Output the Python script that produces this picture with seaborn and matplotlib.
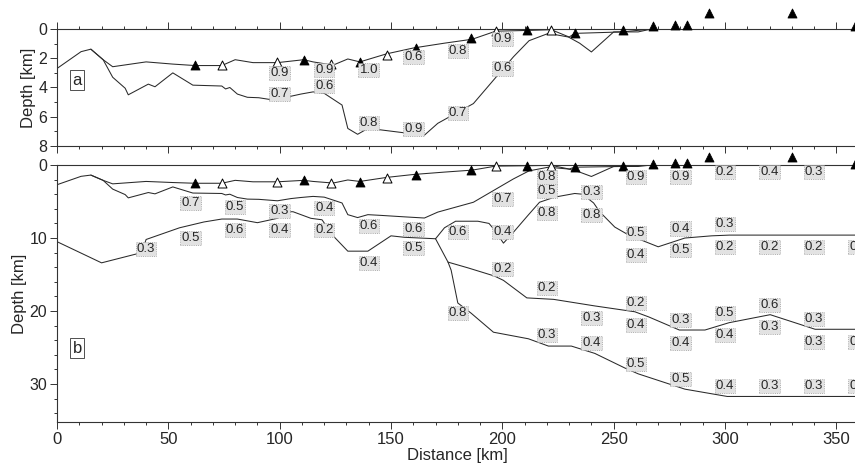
import matplotlib
matplotlib.use("Agg")

import matplotlib.pyplot as plt
from matplotlib.ticker import MultipleLocator
import seaborn as sns

# stations (negative depth = above sea level)
st_x = [62, 74, 98.6, 110.8, 123, 136, 148, 161, 186, 197, 211, 222, 232.5, 254,
        267.6, 277.5, 283, 292.8, 330, 358.6]
st_d = [2.47, 2.47, 2.26, 2.12, 2.4, 2.26, 1.78, 1.3, 0.62, 0.15, 0.1, 0.1, 0.3, 0.1,
        -0.2, -0.27, -0.27, -1.1, -1.1, -0.2]
st_open = [0, 1, 1, 0, 1, 0, 1, 0, 0, 1, 0, 1, 0, 0, 0, 0, 0, 0, 0, 0]

# interfaces
x_top = [0, 10.8, 15.2, 20.7, 25, 40, 52, 62, 74, 80, 88, 99, 110.8, 115, 124, 130.6, 136,
         148, 160, 174, 186.5, 197, 211, 222, 230, 232.5, 254, 267, 360]
d_top = [2.7, 1.55, 1.38, 2.1, 2.58, 2.25, 2.4, 2.5, 2.5, 2.1, 2.3, 2.3, 2.1, 2.25, 2.47, 2.05,
         2.25, 1.7, 1.3, 0.97, 0.7, 0.15, 0.1, 0.05, 0.55, 0.3, 0.2, 0, 0]

x_base = [15.2, 20.7, 25, 30.6, 32, 41, 44, 52, 61, 74, 75.7, 77.6, 81, 85.5, 90.6, 99, 105,
          109.5, 115, 120, 128, 130.6, 135, 139.6, 145.5, 156, 165, 171, 187, 196, 205, 212,
          220.7, 229.7, 234.7, 240, 250, 261, 267, 360]
d_base = [1.38, 2.1, 3.3, 4.05, 4.5, 3.77, 3.95, 3.0, 3.84, 3.9, 4.1, 4.0, 4.45, 4.67, 4.7, 4.9,
          4.6, 4.45, 4.3, 4.4, 5.2, 6.8, 7.2, 6.8, 6.9, 7.1, 7.26, 6.45, 5.1, 3.5, 1.9, 0.8,
          0.3, 0.55, 0.97, 1.57, 0.2, 0.2, 0, 0]

x_l3 = [0, 20, 38, 40, 55, 66, 74, 81, 90, 96, 99, 101, 106, 114, 119, 124, 130.6, 139.6,
        150, 156, 170]
d_l3 = [10.5, 13.4, 12.0, 10.2, 8.6, 7.8, 7.4, 7.4, 7.9, 7.5, 7.3, 6.4, 6.4, 7.3, 7.5, 9.7,
        11.8, 11.8, 9.7, 9.9, 10.1]

x_l4 = [170, 174, 179, 189, 194, 196.5, 200.5, 205, 211.5, 216.7, 223.5, 232.5, 236, 241,
        243.7, 250.5, 256.8, 270, 282, 294, 302, 360]
d_l4 = [10.1, 8.6, 7.7, 7.7, 8.0, 8.9, 10.7, 9.2, 6.9, 5.1, 4.4, 3.9, 4.0, 5.2,
        6.4, 8.5, 9.6, 11.2, 10.0, 9.7, 9.6, 9.6]

x_l5 = [170, 175.6, 184.7, 196.4, 200.5, 211, 223, 241.5, 259.5, 265.7, 279.5, 291, 301.8,
        320.3, 340.5, 360]
d_l5 = [10.1, 13.3, 14.1, 15.2, 15.8, 18.2, 18.4, 19.3, 20.1, 20.8, 22.6, 22.6, 21.6,
        20.5, 22.5, 22.5]

x_l6 = [175.6, 177, 180, 186, 196, 211.7, 220.7, 231, 241.5, 255, 261, 276, 282, 289.6, 301, 360]
d_l6 = [13.3, 14.4, 18.9, 20.3, 22.9, 23.8, 24.8, 24.8, 25.8, 27.8, 28.6, 30.1, 30.7, 31.1,
        31.7, 31.7]

# labels
lab_a_x = [100, 100, 120, 120, 140, 160, 180, 200, 200, 180, 140, 160]
lab_a_d = [3.0, 4.45, 2.8, 3.9, 2.8, 1.9, 1.5, 0.7, 2.7, 5.75, 6.4, 6.85]
lab_a_t = ["0.9", "0.7", "0.9", "0.6", "1.0", "0.6", "0.8", "0.9", "0.6", "0.7", "0.8", "0.9"]

lab_b_x = [40, 60, 60, 80, 80, 100, 100, 120, 120, 140, 140, 160, 160, 180, 180,
           200, 200, 200, 220, 220, 220, 220, 220, 240, 240, 240, 240,
           260, 260, 260, 260, 260, 260, 280, 280, 280, 280, 280, 280,
           300, 300, 300, 300, 300, 300, 320, 320, 320, 320, 320,
           340, 340, 340, 340, 340, 360, 360, 360]
lab_b_d = [11.5, 5.2, 10.0, 5.75, 8.9, 6.3, 8.9, 5.9, 8.9, 8.4, 13.4, 8.8, 11.4, 9.2, 20.3,
           4.7, 9.2, 14.2, 1.6, 3.6, 6.6, 16.9, 23.3, 3.7, 6.8, 21.0, 24.4,
           1.6, 9.3, 12.3, 18.9, 21.9, 27.3, 1.6, 8.7, 11.6, 21.2, 24.4, 29.3,
           1.0, 8.1, 11.2, 20.3, 23.3, 30.3, 1.0, 11.2, 19.2, 22.2, 30.3,
           1.0, 11.2, 21.1, 24.2, 30.3, 11.2, 24.2, 30.3]
lab_b_t = ["0.3", "0.7", "0.5", "0.5", "0.6", "0.3", "0.4", "0.4", "0.2", "0.6", "0.4",
           "0.6", "0.5", "0.6", "0.8", "0.7", "0.4", "0.2", "0.8", "0.5", "0.8", "0.2", "0.3",
           "0.3", "0.8", "0.3", "0.4", "0.9", "0.5", "0.4", "0.2", "0.4", "0.5",
           "0.9", "0.4", "0.5", "0.3", "0.4", "0.5", "0.2", "0.3", "0.2", "0.5", "0.4", "0.4",
           "0.4", "0.2", "0.6", "0.3", "0.3", "0.3", "0.2", "0.3", "0.3", "0.3",
           "0.2", "0.3", "0.3"]

sns.set_theme(style="white")
plt.rcParams["font.family"] = ["Liberation Sans", "DejaVu Sans"]

fig = plt.figure(figsize=(8.55, 4.66), dpi=100)
ax_a = fig.add_axes([0.0667, 0.6867, 0.9375, 0.2511])
ax_b = fig.add_axes([0.0667, 0.0944, 0.9375, 0.5515])

LC = "#2a2a2a"
box = dict(boxstyle="square,pad=0.08", fc="#e2e2e2", ec="#9a9a9a", ls=":", lw=0.6)


def draw_line(ax, xs, ds):
    sns.lineplot(x=xs, y=ds, ax=ax, color=LC, lw=0.75, sort=False, estimator=None)


def draw_stations(ax):
    fx = [x for x, o in zip(st_x, st_open) if not o]
    fd = [d for d, o in zip(st_d, st_open) if not o]
    ox = [x for x, o in zip(st_x, st_open) if o]
    od = [d for d, o in zip(st_d, st_open) if o]
    sns.scatterplot(x=fx, y=fd, ax=ax, marker="^", s=42, color="black",
                    edgecolor="black", linewidth=0.6, clip_on=False, zorder=5)
    sns.scatterplot(x=ox, y=od, ax=ax, marker="^", s=42, color="white",
                    edgecolor="black", linewidth=0.7, clip_on=False, zorder=5)


def style_axis(ax, ymax, ymaj, ymin):
    ax.set_xlim(0, 360)
    ax.set_ylim(ymax, 0)
    ax.xaxis.set_major_locator(MultipleLocator(50))
    ax.xaxis.set_minor_locator(MultipleLocator(10))
    ax.yaxis.set_major_locator(MultipleLocator(ymaj))
    ax.yaxis.set_minor_locator(MultipleLocator(ymin))
    ax.tick_params(which="both", direction="out", color="#333333", width=0.7,
                   left=True, bottom=True)
    ax.tick_params(which="major", length=5)
    ax.tick_params(which="minor", length=2.5)
    ax.tick_params(axis="y", labelsize=11.5, pad=2)
    ax.tick_params(axis="x", labelsize=12, pad=2)
    ax.spines["right"].set_visible(False)
    for s in ["left", "top", "bottom"]:
        ax.spines[s].set_color("#333333")
        ax.spines[s].set_linewidth(0.8)
    ax.set_ylabel("Depth [km]", fontsize=12, labelpad=2)


# panel a
draw_line(ax_a, x_top, d_top)
draw_line(ax_a, x_base, d_base)
draw_stations(ax_a)
for x, d, t in zip(lab_a_x, lab_a_d, lab_a_t):
    ax_a.text(x, d, t, ha="center", va="center", fontsize=9.5, bbox=box, zorder=6)
style_axis(ax_a, 8, 2, 1)
ax_a.tick_params(top=True, which="both")
ax_a.set_xticklabels([])
ax_a.text(9, 3.5, "a", fontsize=12, ha="center", va="center",
          bbox=dict(boxstyle="square,pad=0.15", fc="white", ec="#333333", lw=0.6))

# panel b
for xs, ds in [(x_top, d_top), (x_base, d_base), (x_l3, d_l3), (x_l4, d_l4),
               (x_l5, d_l5), (x_l6, d_l6)]:
    draw_line(ax_b, xs, ds)
draw_stations(ax_b)
for x, d, t in zip(lab_b_x, lab_b_d, lab_b_t):
    ax_b.text(x, d, t, ha="center", va="center", fontsize=9.5, bbox=box, zorder=6)
style_axis(ax_b, 35.2, 10, 2)
ax_b.set_xlabel("Distance [km]", fontsize=12, labelpad=1)
ax_b.text(9, 25.1, "b", fontsize=12, ha="center", va="center",
          bbox=dict(boxstyle="square,pad=0.15", fc="white", ec="#333333", lw=0.6))

fig.savefig("out.png", dpi=100)
